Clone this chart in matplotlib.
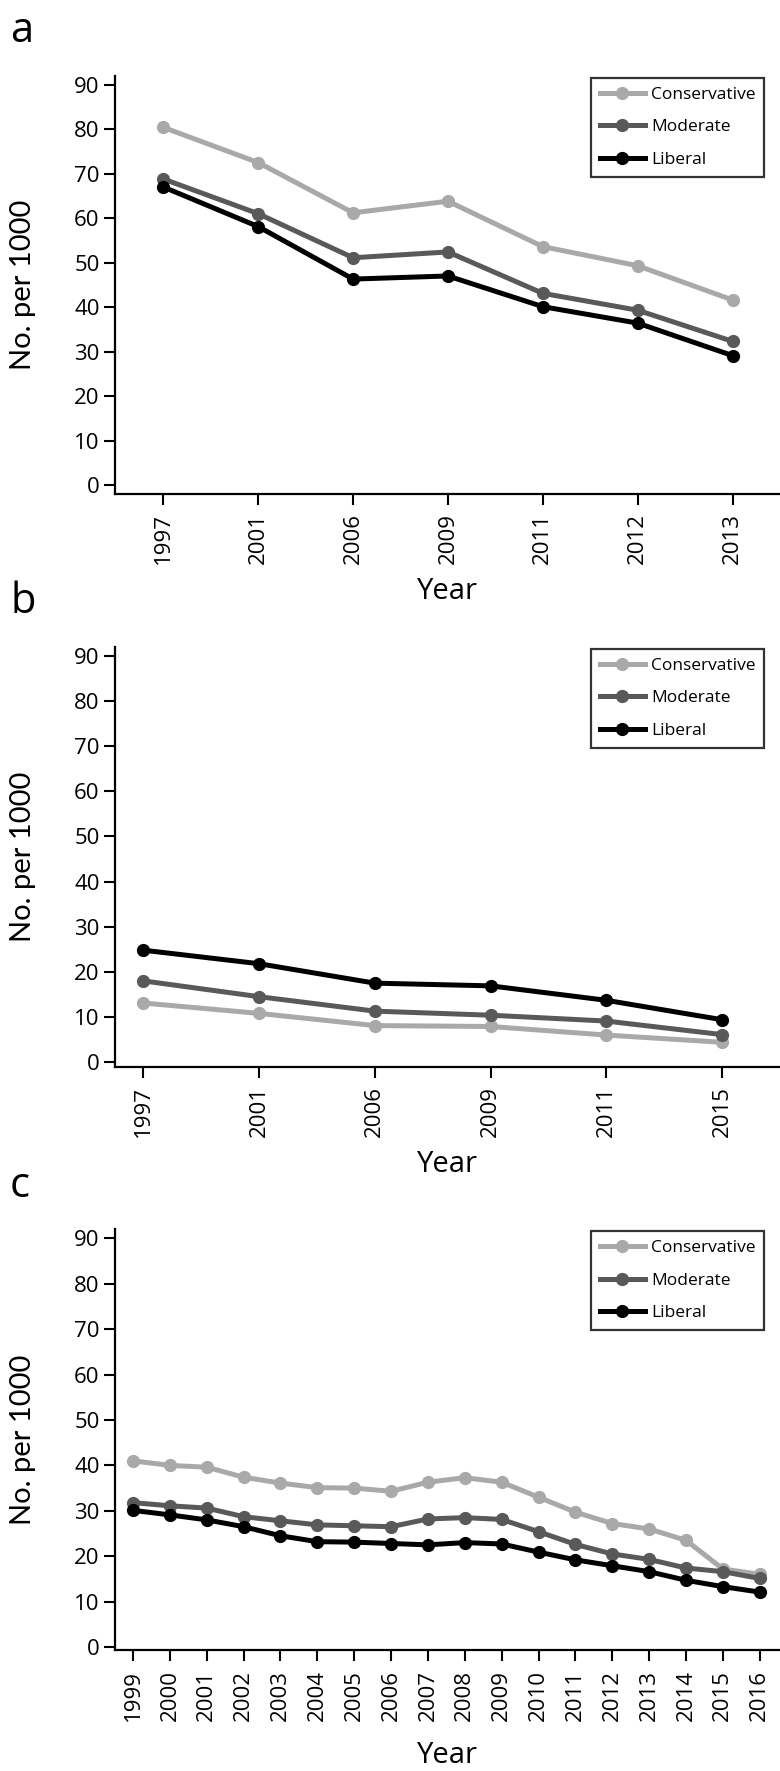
import numpy as np
import matplotlib
matplotlib.use("Agg")
import matplotlib.pyplot as plt

plt.rcParams['font.family'] = ['Open Sans', 'DejaVu Sans']

# panel a
years_a = ['1997', '2001', '2006', '2009', '2011', '2012', '2013']
cons_a = [80.4, 72.5, 61.2, 63.8, 53.6, 49.3, 41.6]
mod_a = [68.8, 61.0, 51.1, 52.4, 43.1, 39.3, 32.3]
lib_a = [67.0, 58.1, 46.3, 47.0, 40.1, 36.4, 29.1]

# panel b
years_b = ['1997', '2001', '2006', '2009', '2011', '2015']
cons_b = [13.1, 10.8, 8.1, 7.9, 6.0, 4.4]
mod_b = [18.0, 14.5, 11.3, 10.4, 9.1, 6.1]
lib_b = [24.8, 21.8, 17.5, 16.9, 13.7, 9.4]

# panel c
years_c = ['1999', '2000', '2001', '2002', '2003', '2004', '2005', '2006', '2007',
           '2008', '2009', '2010', '2011', '2012', '2013', '2014', '2015', '2016']
cons_c = [41.0, 40.0, 39.6, 37.4, 36.1, 35.1, 35.0, 34.3, 36.3,
          37.3, 36.3, 33.0, 29.7, 27.2, 26.0, 23.5, 17.2, 16.0]
mod_c = [31.8, 31.1, 30.6, 28.7, 27.8, 26.9, 26.7, 26.5, 28.2,
         28.5, 28.1, 25.4, 22.6, 20.5, 19.3, 17.4, 16.6, 15.1]
lib_c = [30.1, 29.1, 28.0, 26.5, 24.5, 23.2, 23.1, 22.8, 22.5,
         23.0, 22.7, 20.9, 19.2, 17.9, 16.6, 14.7, 13.3, 12.1]

labels = ['Conservative', 'Moderate', 'Liberal']
colors = ['#a9a9a9', '#595959', '#000000']

fig = plt.figure(figsize=(7.8, 17.71), dpi=100)


def panel(rect, years, series, ylim, xlim, letter, letter_y, xpad=9):
    ax = fig.add_axes(rect)
    x = np.arange(len(years))
    for vals, lab, col in zip(series, labels, colors):
        ax.plot(x, vals, color=col, lw=3.6, marker='o', ms=8.5, label=lab)
    ax.set_xticks(x)
    ax.set_xticklabels(years, rotation=90, fontsize=16)
    ax.set_yticks(np.arange(0, 91, 10))
    ax.tick_params(axis='y', labelsize=16, length=8, width=1.5, pad=3)
    ax.tick_params(axis='x', length=8, width=1.5, pad=6)
    ax.set_ylim(*ylim)
    ax.set_xlim(*xlim)
    for s in ['top', 'right']:
        ax.spines[s].set_visible(False)
    for s in ['left', 'bottom']:
        ax.spines[s].set_linewidth(1.6)
    ax.set_xlabel('Year', fontsize=21, labelpad=xpad)
    ax.set_ylabel('No. per 1000', fontsize=21, family=['Lato', 'DejaVu Sans'], va='center')
    ax.yaxis.set_label_coords(-0.138, 0.5)
    leg = ax.legend(loc='upper right', bbox_to_anchor=(0.976, 0.995), fontsize=12.5,
                    handlelength=2.6, handletextpad=0.35, labelspacing=0.95,
                    fancybox=False, borderpad=0.5, borderaxespad=0.0)
    leg.get_frame().set_edgecolor('black')
    leg.get_frame().set_linewidth(1.6)
    fig.text(10 / 780, 1 - letter_y / 1771, letter, fontsize=30, va='baseline', ha='left')
    return ax


panel([0.1474, 0.7211, 0.8526, 0.2361], years_a, [cons_a, mod_a, lib_a],
      (-2, 92), (-0.51, 6.5), 'a', 42)
panel([0.1474, 0.3977, 0.8526, 0.2371], years_b, [cons_b, mod_b, lib_b],
      (-1, 92), (-0.245, 5.5), 'b', 613)
panel([0.1474, 0.0682, 0.8526, 0.2377], years_c, [cons_c, mod_c, lib_c],
      (-0.7, 92), (-0.49, 17.55), 'c', 1197, xpad=15)

fig.savefig('out.png', dpi=100)
